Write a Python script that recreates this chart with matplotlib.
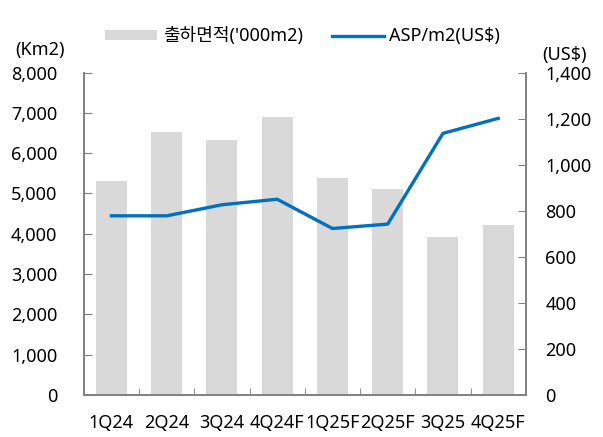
import matplotlib
matplotlib.use('Agg')
import matplotlib.pyplot as plt
import numpy as np

plt.rcParams['font.family'] = ['Noto Sans', 'Noto Sans CJK KR', 'DejaVu Sans']

quarters = ['1Q24', '2Q24', '3Q24', '4Q24F', '1Q25F', '2Q25F', '3Q25', '4Q25F']
shipped_area = [5300, 6520, 6330, 6900, 5385, 5110, 3930, 4210]  # '000 m2
asp = [778, 778, 826, 850, 723, 742, 1136, 1201]  # US$/m2

bar_color = '#D9D9D9'
line_color = '#0070C0'
spine_color = '#808080'
fs = 13

fig = plt.figure(figsize=(6.03, 4.37), dpi=100)
ax = fig.add_axes([0.139, 0.096, 0.733, 0.738])
ax2 = ax.twinx()

x = np.arange(len(quarters))
b = ax.bar(x, shipped_area, width=0.56, color=bar_color, label="출하면적('000m2)")
l, = ax2.plot(x, asp, color=line_color, lw=2.4, label='ASP/m2(US$)')

ax.set_xlim(-0.5, len(quarters) - 0.5)
ax.set_ylim(0, 8000)
ax2.set_ylim(0, 1400)
ax.set_yticks(np.arange(0, 8001, 1000))
ax2.set_yticks(np.arange(0, 1401, 200))
ax.set_yticklabels([f'{v:,}' for v in range(0, 8001, 1000)])
ax2.set_yticklabels([f'{v:,}' for v in range(0, 1401, 200)])

ax.set_xticks(x)
ax.set_xticklabels(quarters)
ax.set_xticks(np.arange(0.5, len(quarters) - 0.5, 1), minor=True)
ax.tick_params(axis='x', which='major', length=0, pad=14, labelsize=fs)
ax.tick_params(axis='x', which='minor', direction='in', length=5, color=spine_color)
ax.tick_params(axis='y', direction='in', length=6, color=spine_color, pad=19, labelsize=fs)
ax2.tick_params(axis='y', direction='in', length=6, color=spine_color, pad=14, labelsize=fs)

for a in (ax, ax2):
    for s in a.spines.values():
        s.set_color(spine_color)
        s.set_linewidth(1.2)
    a.spines['top'].set_visible(False)

fig.text(0.025, 0.875, '(Km2)', fontsize=fs)
fig.text(0.900, 0.862, '(US$)', fontsize=fs)

fig.legend(handles=[b, l], loc='upper center', bbox_to_anchor=(0.502, 0.975), ncol=2,
           frameon=False, fontsize=fs, handlelength=2.9, handleheight=0.45,
           columnspacing=1.6, handletextpad=0.3)

fig.savefig('out.png', dpi=100)
plt.close(fig)
